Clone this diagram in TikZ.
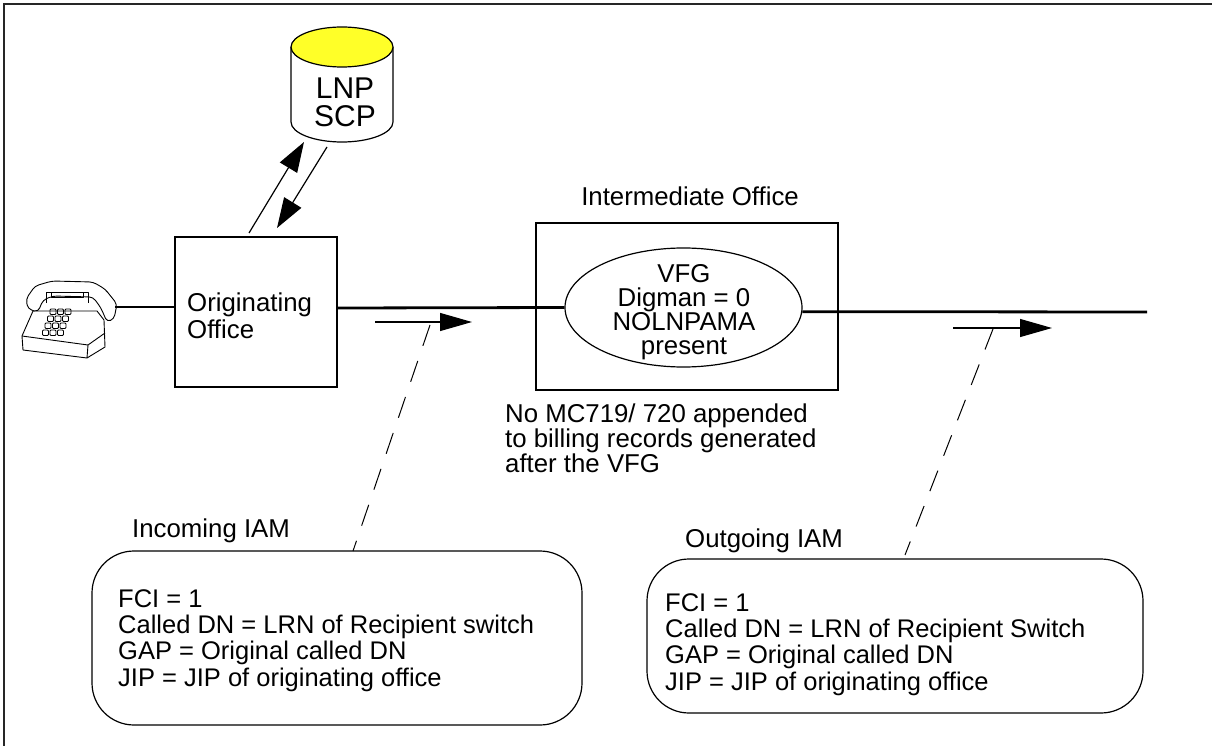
\documentclass[tikz,border=0pt]{standalone}
\usepackage{fontspec}
\setmainfont{Liberation Sans}
\usetikzlibrary{arrows.meta,shapes.geometric,calc}
\definecolor{scpyellow}{RGB}{255,255,40}

\begin{document}
\begin{tikzpicture}[x=1pt,y=-1pt,
  thinline/.style={line width=1.2pt},
  trunk/.style={line width=2.8pt},
  office/.style={draw, line width=1.2pt, inner sep=0pt},
  bigtip/.style={-{Triangle[length=30pt,width=20pt]}},
  flowtip/.style={-{Triangle[length=32pt,width=18pt]}},
  memo/.style={draw, rounded corners=42pt, line width=1.2pt, inner sep=0pt},
  lbl/.style={inner sep=0pt, font=\fontsize{25.8}{26.5}\selectfont},
  leader/.style={dash pattern=on 22pt off 16pt, line width=1pt}
]
\useasboundingbox (0,0) rectangle (1212,746);

% outer frame
\draw[line width=1.6pt, black!85] (1212,4) -- (4,4) -- (4,746);

% telephone set
\begin{scope}[line width=0.9pt, line join=round]
  \draw[fill=white] (33,311) -- (22,336) -- (23,350) -- (87,358) -- (105,347) -- (104,320) -- (97,311) -- cycle;
  \draw (22,336) -- (88,345) -- (105,333);
  \draw (88,345) -- (87,358);
  \foreach \r in {0,...,3}
    \foreach \c in {0,1,2}
      \draw[rounded corners=1pt] ({50+7.5*\c-2.5*\r},{309+7*\r}) rectangle ++(6,5.5);
  \draw[fill=white, rounded corners=4pt] (28,309) -- (26,299) -- (35,286) -- (52,281) -- (93,282) -- (105,289) -- (117,304) -- (114,319) -- (107,322) -- (101,308) -- (93,297) -- (53,296) -- (43,300) -- (38,312) -- cycle;
  \draw (46,303) -- (46,292) -- (51,292) -- (51,297) -- (83,297) -- (83,292) -- (88,292) -- (88,303);
  \draw (51,292) -- (83,292);
\end{scope}

% LNP SCP database
\draw[thinline, fill=white] (291,47) -- (291,122) arc[start angle=180, end angle=360, x radius=51pt, y radius=20pt] -- (393,47);
\draw[thinline, fill=scpyellow] (342,47) ellipse [x radius=51pt, y radius=20pt];
\node[anchor=base, align=center, inner sep=0pt, font=\fontsize{30}{28}\selectfont] (scp) at (345,127) {LNP\\SCP};

% offices
\node[office, minimum width=162pt, minimum height=150pt] (orig) at (256,312) {};
\node[lbl, anchor=base west, align=left] (origtxt) at (187,338) {Originating\\Office};

\node[office, minimum width=302pt, minimum height=167pt] (inter) at (687,306.5) {};
\node[lbl, anchor=base] (intertxt) at (690,205) {Intermediate Office};

\node[draw, ellipse, line width=1.2pt, minimum width=237pt, minimum height=119pt, inner sep=0pt] (vfg) at (683.5,307.5) {};
\node[lbl, anchor=base, align=center, font=\fontsize{25.8}{23.7}\selectfont] (vfgtxt) at (684,354) {VFG\\Digman = 0\\NOLNPAMA\\present};

\node[lbl, anchor=base west, align=left, font=\fontsize{25.8}{25}\selectfont] (note) at (505,472) {No MC719/ 720 appended\\to billing records generated\\after the VFG};

% query and response with the SCP
\coordinate (qa) at (249,233);
\coordinate (qb) at (304,142);
\coordinate (ra) at (327,147);
\coordinate (rb) at (277,228);
\draw[thinline, bigtip] (qa) -- (qb);
\draw[thinline, bigtip] (ra) -- (rb);

% trunks
\coordinate (jack) at (115,307);
\coordinate (trunkend) at (1147,312);
\draw[thinline] (jack) -- ([yshift=5pt]orig.west);
\draw[trunk] ([yshift=4pt]orig.east) -- (vfg.west);
\draw[trunk] (vfg.-2.2) -- (trunkend);

% message direction
\coordinate (fa) at (375,322);
\coordinate (fb) at (472,322);
\coordinate (ga) at (953,328);
\coordinate (gb) at (1052,328);
\draw[thinline, flowtip] (fa) -- (fb);
\draw[thinline, flowtip] (ga) -- (gb);

% IAM contents
\node[lbl, anchor=base west] (inlbl) at (132,537) {Incoming IAM};
\node[memo, minimum width=490pt, minimum height=174pt] (inmemo) at (337,638) {};
\node[lbl, anchor=base west, align=left, font=\fontsize{25.5}{26.3}\selectfont] (intxt) at (118,686) {FCI = 1\\Called DN = LRN of Recipient switch\\GAP = Original called DN\\JIP = JIP of originating office};

\node[lbl, anchor=base west] (outlbl) at (685,547) {Outgoing IAM};
\node[memo, minimum width=496pt, minimum height=154pt] (outmemo) at (895,636) {};
\node[lbl, anchor=base west, align=left, font=\fontsize{25.5}{26.3}\selectfont] (outtxt) at (665,690) {FCI = 1\\Called DN = LRN of Recipient Switch\\GAP = Original called DN\\JIP = JIP of originating office};

% leaders from the arrows to their messages
\coordinate (la) at (430,325);
\coordinate (lb) at (353,551);
\coordinate (ma) at (993,329);
\coordinate (mb) at (905,555);
\draw[leader] (la) -- (lb);
\draw[leader] (ma) -- (mb);
\end{tikzpicture}
\end{document}
